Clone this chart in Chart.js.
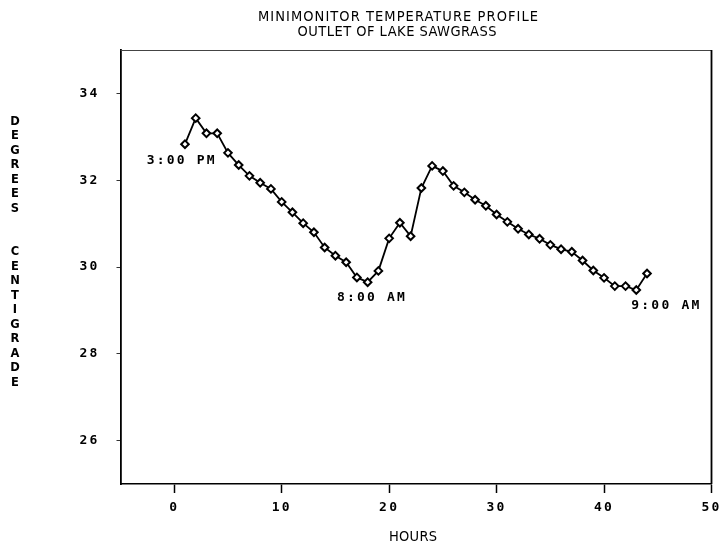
<!DOCTYPE html>
<html lang="en">
<head>
<meta charset="UTF-8">
<title>Minimonitor Temperature Profile</title>
<style>
  html, body { margin: 0; padding: 0; background: #fff; }
  canvas { display: block; }
</style>
</head>
<body>
<canvas id="tempChart" width="720" height="547"></canvas>
<script src="https://cdn.jsdelivr.net/npm/chart.js"></script>
<script>
// hourly readings from the minimonitor
const hours = [1, 2, 3, 4, 5, 6, 7, 8, 9, 10, 11, 12, 13, 14, 15, 16, 17, 18, 19, 20, 21, 22,
               23, 24, 25, 26, 27, 28, 29, 30, 31, 32, 33, 34, 35, 36, 37, 38, 39, 40, 41, 42, 43, 44];
const temps = [32.83, 33.43, 33.08, 33.08, 32.63, 32.35, 32.10, 31.94, 31.80, 31.50, 31.26,
               31.01, 30.80, 30.45, 30.26, 30.11, 29.76, 29.65, 29.91, 30.66, 31.02, 30.71,
               31.82, 32.33, 32.21, 31.87, 31.72, 31.55, 31.41, 31.21, 31.04, 30.88, 30.75,
               30.65, 30.51, 30.41, 30.35, 30.15, 29.92, 29.75, 29.56, 29.56, 29.47, 29.85];

const xTicks = [0, 10, 20, 30, 40, 50];
const yTicks = [26, 28, 30, 32, 34];

// time-of-day labels, anchored in data units (hour, temp)
const noteText = ['3:00 PM', '8:00 AM', '9:00 AM'];
const noteHour = [0.6, 18.3, 45.7];
const noteTemp = [32.44, 29.29, 29.12];

const titleLines = ['MINIMONITOR TEMPERATURE PROFILE', 'OUTLET OF LAKE SAWGRASS'];
const yTitle = 'DEGREES  CENTIGRADE';
const xTitle = 'HOURS';

const monoFont = { family: "'DejaVu Sans Mono', monospace", size: 13, weight: 'bold' };
const MONO_SPACING = '2.2px';
const narrowFont = "14.5px 'Liberation Sans Narrow', 'DejaVu Sans Condensed', sans-serif";

// draw text centred at cx, spread out to a given width
function spreadText(ctx, text, cx, cy, width) {
    ctx.letterSpacing = '0px';
    const w = ctx.measureText(text).width;
    const sp = (width - w) / (text.length - 1);
    ctx.letterSpacing = sp + 'px';
    ctx.textAlign = 'left';
    ctx.fillText(text, cx - width / 2, cy);
    ctx.letterSpacing = '0px';
}

const decorations = {
    id: 'decorations',
    beforeDraw(chart) {
        chart.ctx.letterSpacing = MONO_SPACING;
    },
    afterDraw(chart) {
        const ctx = chart.ctx;
        const a = chart.chartArea;
        const xs = chart.scales.x, ys = chart.scales.y;
        ctx.save();

        // top and right frame lines
        ctx.strokeStyle = '#444';
        ctx.lineWidth = 1;
        ctx.beginPath();
        ctx.moveTo(a.left, a.top + 0.5);
        ctx.lineTo(a.right, a.top + 0.5);
        ctx.stroke();
        ctx.strokeStyle = '#000';
        ctx.lineWidth = 1.8;
        ctx.beginPath();
        ctx.moveTo(a.right, a.top);
        ctx.lineTo(a.right, a.bottom);
        ctx.stroke();

        ctx.fillStyle = '#000';
        ctx.textBaseline = 'middle';

        // title (slight stroke to thicken the thin face a little)
        ctx.font = narrowFont;
        ctx.strokeStyle = '#000';
        ctx.lineWidth = 0.35;
        spreadText(ctx, titleLines[0], 398, 17, 280);
        spreadText(ctx, titleLines[1], 397, 32, 199);

        // x axis title
        spreadText(ctx, xTitle, 413, 537, 48);

        // y axis title, one letter per line
        ctx.font = "bold 11.5px 'DejaVu Sans', sans-serif";
        ctx.textAlign = 'center';
        const top = 122, bottom = 383;
        const step = (bottom - top) / (yTitle.length - 1);
        for (let i = 0; i < yTitle.length; i++) {
            ctx.fillText(yTitle[i], 15, top + i * step);
        }

        // time-of-day notes
        ctx.font = `bold ${monoFont.size}px ${monoFont.family}`;
        ctx.letterSpacing = MONO_SPACING;
        ctx.textAlign = 'center';
        for (let i = 0; i < noteText.length; i++) {
            ctx.fillText(noteText[i], xs.getPixelForValue(noteHour[i]) + 1.1, ys.getPixelForValue(noteTemp[i]));
        }
        ctx.restore();
    }
};

new Chart(document.getElementById('tempChart'), {
    type: 'line',
    data: {
        datasets: [{
            data: hours.map((h, i) => ({ x: h, y: temps[i] })),
            borderColor: '#000',
            borderWidth: 1.8,
            tension: 0,
            pointStyle: 'rectRot',
            pointRadius: 3.8,
            pointBackgroundColor: '#fff',
            pointBorderColor: '#000',
            pointBorderWidth: 2
        }]
    },
    options: {
        responsive: false,
        devicePixelRatio: 1,
        animation: false,
        layout: { padding: { top: 50, right: 8.5, left: 0, bottom: 0 } },
        plugins: {
            legend: { display: false },
            tooltip: { enabled: false },
            title: { display: false }
        },
        scales: {
            x: {
                type: 'linear',
                min: -5,
                max: 50,
                afterBuildTicks: s => { s.ticks = xTicks.map(v => ({ value: v })); },
                afterFit: s => { s.height = 63; s.paddingLeft = 0; s.paddingRight = 0; },
                grid: { drawOnChartArea: false, tickLength: 9, tickColor: '#000', tickWidth: 1.5 },
                border: { color: '#000', width: 1.6 },
                ticks: { color: '#000', font: monoFont, padding: 7, maxRotation: 0, autoSkip: false }
            },
            y: {
                type: 'linear',
                min: 25,
                max: 35,
                afterBuildTicks: s => { s.ticks = yTicks.map(v => ({ value: v })); },
                afterFit: s => { s.width = 120.5; s.paddingTop = 0; s.paddingBottom = 0; },
                grid: { drawOnChartArea: false, tickLength: 4, tickColor: '#333', tickWidth: 1 },
                border: { color: '#000', width: 1.8 },
                ticks: { color: '#000', font: monoFont, padding: 17, autoSkip: false }
            }
        }
    },
    plugins: [decorations]
});
</script>
</body>
</html>
